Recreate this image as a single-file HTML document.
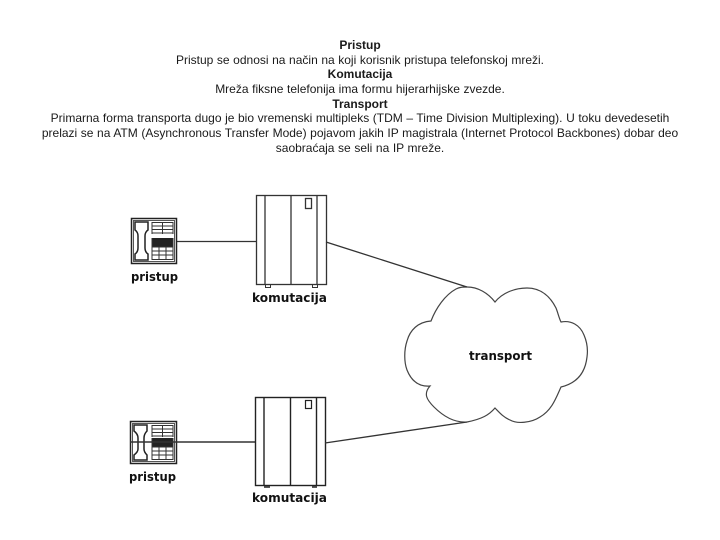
<!DOCTYPE html>
<html>
<head>
<meta charset="utf-8">
<style>
html,body{margin:0;padding:0;background:#fff;}
body{width:720px;height:540px;position:relative;overflow:hidden;}
#t{position:absolute;left:30px;width:660px;top:38px;text-align:center;font:12px/14.65px "Liberation Sans",Arial,sans-serif;word-spacing:.25px;color:#1a1a1a;}
svg{position:absolute;left:0;top:0;}
.l{font-family:"DejaVu Sans",sans-serif;font-weight:bold;font-size:12px;fill:#111;}
</style>
</head>
<body>
<div id="t"><b>Pristup</b><br>Pristup se odnosi na način na koji korisnik pristupa telefonskoj mreži.<br><b>Komutacija</b><br>Mreža fiksne telefonija ima formu hijerarhijske zvezde.<br><b>Transport</b><br>Primarna forma transporta dugo je bio vremenski multipleks (TDM – Time Division Multiplexing). U toku devedesetih<br>prelazi se na ATM (Asynchronous Transfer Mode) pojavom jakih IP magistrala (Internet Protocol Backbones) dobar deo<br>saobraćaja se seli na IP mreže.</div>
<svg width="720" height="540" viewBox="0 0 720 540" fill="none" stroke="#222" stroke-width="1">
<!-- connectors -->
<path d="M177 241.5H256" stroke="#333" stroke-width="1.3"/>
<!-- top phone -->
<g>
<rect x="131.5" y="218.5" width="45" height="45" stroke-width="1.5"/>
<rect x="133.5" y="220.5" width="41" height="41" stroke="#555"/>
<path d="M135 222H148V230Q145 232 145 236V248Q145 252 148 254V260H135V254Q138 252 138 248V236Q138 232 135 230Z" stroke-width="1.5"/>
<path d="M152 222.5H173M152 226H173M152 229.500H173M152 233H173M152 222V234M162.500 222V234M173 222V234" stroke="#333"/>
<rect x="152" y="238" width="21" height="9" fill="#222" stroke="none"/>
<path d="M152 247H173M152 251H173M152 255H173M152 259.500H173M152 238V260M159 247V260M166 247V260M173 238V260" stroke="#333"/>
</g>
<!-- bottom phone -->
<g>
<rect x="130.500" y="421.500" width="46" height="42" stroke-width="1.500"/>
<rect x="132.500" y="423.500" width="42" height="38" stroke="#555"/>
<path d="M134 425H147V431Q144 434 144 438V449Q144 452 147 455V460H134V455Q138 452 138 449V438Q138 434 134 431Z" stroke-width="1.5"/>
<path d="M152 425.500H173M152 429H173M152 432.500H173M152 436H173M152 425V437M162.500 425V437M173 425V437" stroke="#333"/>
<rect x="152" y="438" width="21" height="9" fill="#222" stroke="none"/>
<path d="M152 447H173M152 451H173M152 455H173M152 459.500H173M152 438V460M159 447V460M166 447V460M173 438V460" stroke="#333"/>
<path d="M130 442H256" stroke="#333" stroke-width="1.500"/>
</g>
<!-- top switch -->
<g stroke="#333">
<rect x="256.500" y="195.500" width="70" height="89" stroke-width="1.300"/>
<path d="M265 195V284M291 195V284M317 195V284" stroke-width="1.300"/>
<rect x="305.500" y="198.500" width="6" height="10" stroke-width="1.300"/>
<path d="M265.500 284V287.500H270.500V284M312.500 284V287.500H317.500V284"/>
</g>
<!-- bottom switch -->
<g stroke="#222">
<rect x="255.500" y="397.500" width="70" height="88" stroke-width="1.400"/>
<path d="M264 397V485M290.500 397V485M316.500 397V485" stroke-width="1.400"/>
<rect x="305.500" y="400.500" width="6" height="8" stroke-width="1.200"/>
<path d="M264 487H270M312 487H317" stroke-width="1.500"/>
</g>
<!-- cloud -->
<path d="M467 287C478 287 488 293 495 302C503 292 516 288 527 288C542 288 551 298 556 308C558 313 559 318 561 322C571 320 580 325 584 335C587 342 588 350 587 357C586 366 582 382 561 387C556 398 552 410 540 417C531 423 517 424 510 420C503 417 499 412 495 408C489 415 482 419 467 422C452 423 441 414 434 407C427 400 423 394 430 386C418 387 411 380 407 370C404 362 404 350 407 341C410 330 418 322 431 321C436 308 445 295 456 289C460 287 463 287 467 287Z" stroke="#444" stroke-width="1.200" fill="#fff"/>
<path d="M326 242L467 287" stroke="#333" stroke-width="1.300"/>
<path d="M325 443L467 422" stroke="#333" stroke-width="1.300"/>
<g stroke="none">
<text class="l" x="131" y="281" textLength="47" lengthAdjust="spacingAndGlyphs">pristup</text>
<text class="l" x="252" y="302" textLength="75" lengthAdjust="spacingAndGlyphs">komutacija</text>
<text class="l" x="469" y="360" textLength="63" lengthAdjust="spacingAndGlyphs">transport</text>
<text class="l" x="129" y="481" textLength="47" lengthAdjust="spacingAndGlyphs">pristup</text>
<text class="l" x="252" y="502" textLength="75" lengthAdjust="spacingAndGlyphs">komutacija</text>
</g>
</svg>
</body>
</html>
